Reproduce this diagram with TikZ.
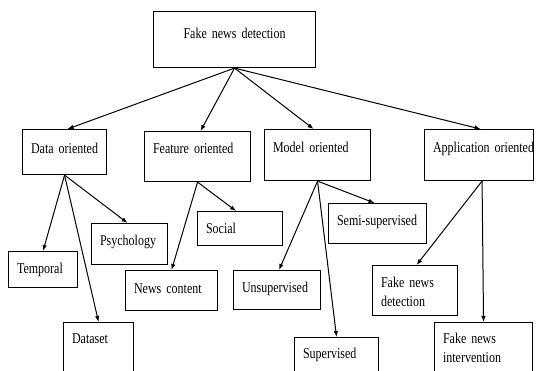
\documentclass[tikz,border=0pt]{standalone}
\usepackage{fontspec}
\setmainfont{Liberation Serif}[FakeStretch=0.8]
\usetikzlibrary{arrows.meta}
\newcommand{\boxfont}{\fontsize{15}{18.5}\selectfont\spaceskip=3pt plus 1pt minus 1pt\relax}

\begin{document}
\begin{tikzpicture}[x=1pt,y=-1pt,
	box/.style={draw,line width=1.1pt,anchor=north west,inner xsep=8.5pt,inner ysep=0pt,align=left,font=\boxfont},
	link/.style={line width=1pt,-{Latex[length=6pt,width=4.5pt]}}]
	\useasboundingbox (0,0) rectangle (537,371);
	\clip (0,0) rectangle (537,371);
	\node[box,align=center,text width=145pt,text height=27pt,text depth=29pt] (root) at (153,11) {Fake news detection};
	\node[box,text width=67pt,text height=24pt,text depth=21pt] (data) at (22,129) {Data oriented};
	\node[box,text width=89pt,text height=22pt,text depth=28pt] (feature) at (144,131) {Feature oriented};
	\node[box,text width=89pt,text height=23pt,text depth=28pt] (model) at (264,129) {Model oriented};
	\node[box,text width=92pt,text height=23pt,text depth=28pt] (app) at (424,129) {\mbox{Application oriented}};
	\node[box,text width=52pt,text height=22pt,text depth=14pt] (temporal) at (8,251) {Temporal};
	\node[box,text width=59pt,text height=22pt,text depth=19pt] (psychology) at (91,223) {Psychology};
	\node[box,text width=53pt,text height=21pt,text depth=60pt] (dataset) at (63,322) {Dataset};
	\node[box,text width=75pt,text height=23pt,text depth=17pt] (content) at (125,270) {News content};
	\node[box,text width=68pt,text height=22pt,text depth=12pt] (social) at (197,211) {Social};
	\node[box,text width=81pt,text height=22pt,text depth=18pt] (semi) at (328,203) {\mbox{Semi-supervised}};
	\node[box,text width=70pt,text height=22pt,text depth=17pt] (unsup) at (233,270) {Unsupervised};
	\node[box,text width=67pt,text height=21pt,text depth=60pt] (sup) at (294,337) {Supervised};
	\node[box,text width=68pt,text height=22pt,text depth=28pt] (detect) at (372,265) {Fake news\\detection};
	\node[box,text width=81pt,text height=21pt,text depth=60pt] (interv) at (434,322) {Fake news\\intervention};

	\draw[link] (root.south) -- ([xshift=3pt]data.north);
	\draw[link] (root.south) -- ([xshift=3pt]feature.north);
	\draw[link] (root.south) -- ([xshift=-4pt]model.north);
	\draw[link] (root.south) -- ([xshift=1.5pt]app.north);
	\draw[link] (data.south) -- (temporal.north);
	\draw[link] (data.south) -- ([xshift=-2pt]psychology.north);
	\draw[link] (data.south) -- (dataset.north);
	\draw[link] (feature.south) -- ([xshift=-4pt]social.north);
	\draw[link] (feature.south) -- (content.north);
	\draw[link] (model.south) -- ([xshift=-3pt]semi.north);
	\draw[link] (model.south) -- ([xshift=2pt]unsup.north);
	\draw[link] (model.south) -- (sup.north);
	\draw[link] ([xshift=3pt]app.south) -- ([xshift=1.5pt]detect.north);
	\draw[link] ([xshift=3pt]app.south) -- (interv.north);
\end{tikzpicture}
\end{document}
